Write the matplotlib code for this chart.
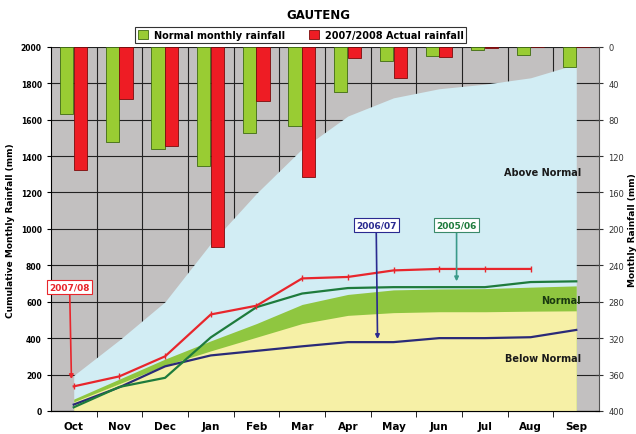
import matplotlib.pyplot as plt
import numpy as np

months = ["Oct", "Nov", "Dec", "Jan", "Feb", "Mar", "Apr", "May", "Jun", "Jul", "Aug", "Sep"]

# monthly rainfall (mm), right axis
normal_monthly = [74, 104, 112, 131, 95, 87, 50, 16, 10, 4, 9, 22]
actual_0708 = [135, 57, 109, 220, 59, 143, 12, 34, 11, 1, 0, 0]

# cumulative bands (mm), left axis
above_top = [195, 390, 600, 920, 1195, 1440, 1620, 1720, 1770, 1795, 1830, 1905]
normal_upper = [65, 175, 285, 385, 480, 585, 640, 665, 670, 672, 680, 687]
normal_lower = [50, 150, 250, 330, 405, 480, 525, 540, 545, 545, 548, 550]

# cumulative seasons
cum_0708 = [135, 190, 300, 530, 578, 728, 736, 772, 780, 780, 780]
cum_0607 = [35, 130, 245, 305, 330, 355, 378, 378, 400, 400, 405, 445]
cum_0506 = [20, 132, 182, 404, 570, 645, 675, 680, 680, 680, 708, 712]

x = np.arange(len(months))

fig = plt.figure(figsize=(6.36, 4.35), dpi=100)
ax = fig.add_axes([0.080, 0.053, 0.862, 0.837])
ax.set_facecolor("#c2c0c0")

ax.fill_between(x, 0, above_top, color="#d2edf4", lw=0, zorder=2)
ax.fill_between(x, 0, normal_upper, color="#8fc640", lw=0, zorder=3)
ax.fill_between(x, 0, normal_lower, color="#f6f0a6", lw=0, zorder=4)

ax.plot(x, cum_0607, color="#2a2a78", lw=1.6, zorder=6)
ax.plot(x, cum_0506, color="#1e7b3c", lw=1.6, zorder=6)
ax.plot(x[:len(cum_0708)], cum_0708, color="#e8262c", lw=1.6, marker="|", ms=4, mew=1, zorder=7)

ax.set_xlim(-0.5, 11.5)
ax.set_ylim(0, 2000)
ax.set_yticks(range(0, 2001, 200))
ax.set_xticks(x)
ax.set_xticklabels(months, fontweight="bold", fontsize=7.5)
ax.set_xticks(x[:-1] + 0.5, minor=True)
ax.tick_params(axis="x", which="major", length=0, pad=7)
ax.tick_params(axis="x", which="minor", length=4, direction="out")
ax.tick_params(axis="y", labelsize=5.5, length=3, direction="out")
for lab in ax.get_yticklabels():
    lab.set_fontweight("bold")
ax.grid(axis="y", color="#222222", lw=0.8, zorder=1)
ax.grid(axis="x", which="minor", color="#222222", lw=0.8, zorder=1)
ax.set_axisbelow(True)
for s in ["top", "right"]:
    ax.spines[s].set_visible(False)

ax.text(11.1, 1310, "Above Normal", ha="right", va="center", fontsize=7, fontweight="bold", color="#1a1a1a", zorder=8)
ax.text(11.1, 610, "Normal", ha="right", va="center", fontsize=7, fontweight="bold", color="#1a3a10", zorder=8)
ax.text(11.1, 290, "Below Normal", ha="right", va="center", fontsize=7, fontweight="bold", color="#1a1a1a", zorder=8)

ax.annotate("2007/08", xy=(-0.05, 175), xytext=(-0.09, 680), color="#e8262c", fontsize=6.5, fontweight="bold",
            ha="center", va="center", zorder=9,
            bbox=dict(boxstyle="square,pad=0.25", fc="white", ec="#e8262c", lw=0.8),
            arrowprops=dict(arrowstyle="-|>", color="#e8262c", lw=1.2, mutation_scale=6, shrinkA=0, shrinkB=0))
ax.annotate("2006/07", xy=(6.65, 395), xytext=(6.62, 1022), color="#2a2a90", fontsize=6.5, fontweight="bold",
            ha="center", va="center", zorder=9,
            bbox=dict(boxstyle="square,pad=0.25", fc="white", ec="#2a2a90", lw=0.8),
            arrowprops=dict(arrowstyle="-|>", color="#2a2a90", lw=1.2, mutation_scale=6, shrinkA=0, shrinkB=0))
ax.annotate("2005/06", xy=(8.38, 712), xytext=(8.38, 1022), color="#1e7b3c", fontsize=6.5, fontweight="bold",
            ha="center", va="center", zorder=9,
            bbox=dict(boxstyle="square,pad=0.25", fc="white", ec="#3a8a6a", lw=0.8),
            arrowprops=dict(arrowstyle="-|>", color="#3a9a8a", lw=1.2, mutation_scale=6, shrinkA=0, shrinkB=0))

ax2 = ax.twinx()
ax2.bar(x - 0.155, normal_monthly, width=0.29, color="#99cc33", edgecolor="#3f6a12", lw=0.6, label="Normal monthly rainfall")
ax2.bar(x + 0.145, actual_0708, width=0.29, color="#ee1c24", edgecolor="#7a0c0c", lw=0.6, label="2007/2008 Actual rainfall")
ax2.set_ylim(400, 0)
ax2.set_yticks(range(0, 401, 40))
ax2.tick_params(axis="y", labelsize=6, length=6, direction="inout", colors="#333333")
ax2.spines["top"].set_visible(False)
ax2.spines["left"].set_visible(False)
ax2.spines["right"].set_color("#555555")

fig.text(0.5, 0.965, "GAUTENG", ha="center", va="center", fontsize=8.5, fontweight="bold")
leg = fig.legend(loc="center", bbox_to_anchor=(0.473, 0.917), ncol=2, fontsize=7, frameon=True,
                 fancybox=False, edgecolor="black", borderpad=0.3, handlelength=1.0, handleheight=1.0,
                 columnspacing=2.5, handletextpad=0.6, prop={"weight": "bold", "size": 7})
leg.get_frame().set_linewidth(0.8)

fig.text(0.016, 0.47, "Cumulative Monthly Rainfall (mm)", rotation=90, ha="center", va="center", fontsize=6.5, fontweight="bold")
fig.text(0.995, 0.47, "Monthly Rainfall (mm)", rotation=90, ha="center", va="center", fontsize=6.5, fontweight="bold")

fig.savefig("out.png", dpi=100)
plt.close()
